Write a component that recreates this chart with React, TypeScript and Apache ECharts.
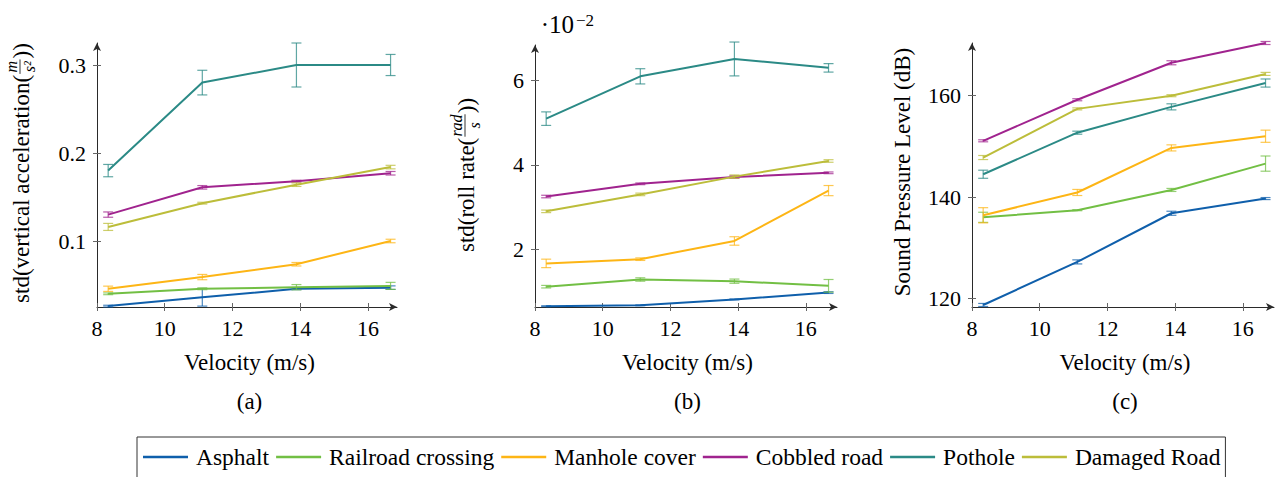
import React, { useEffect, useRef } from 'react';
import * as echarts from 'echarts';

const VELOCITY = [8.33, 11.11, 13.89, 16.67];
const X_TICKS = [8, 10, 12, 14, 16];
const SURFACES = ['Asphalt', 'Railroad crossing', 'Manhole cover', 'Cobbled road', 'Pothole', 'Damaged Road'];
const COLORS = ['#0f5fab', '#72bf44', '#fdb515', '#a0238e', '#2b8a86', '#bcbd3a'];

// (a) std of vertical acceleration (m/s^2)
const ACCEL_MEAN = [
  [0.026, 0.036, 0.0457, 0.047],
  [0.040, 0.0457, 0.0475, 0.049],
  [0.0457, 0.059, 0.0736, 0.100],
  [0.130, 0.161, 0.168, 0.177],
  [0.180, 0.280, 0.300, 0.300],
  [0.116, 0.143, 0.164, 0.184],
];
const ACCEL_ERR = [
  [0.001, 0.010, 0.001, 0.002],
  [0.001, 0.001, 0.003, 0.004],
  [0.003, 0.003, 0.002, 0.002],
  [0.003, 0.002, 0.001, 0.002],
  [0.007, 0.014, 0.025, 0.012],
  [0.004, 0.001, 0.002, 0.002],
];
const ACCEL_TICKS = [0.1, 0.2, 0.3];

// (b) std of roll rate (rad/s), in units of 1e-2
const ROLL_MEAN = [
  [0.66, 0.68, 0.82, 0.98],
  [1.12, 1.29, 1.25, 1.14],
  [1.67, 1.77, 2.20, 3.39],
  [3.25, 3.55, 3.71, 3.81],
  [5.09, 6.09, 6.50, 6.29],
  [2.90, 3.30, 3.72, 4.09],
];
const ROLL_ERR = [
  [0.01, 0.01, 0.01, 0.02],
  [0.03, 0.04, 0.05, 0.15],
  [0.10, 0.03, 0.10, 0.12],
  [0.03, 0.02, 0.03, 0.02],
  [0.16, 0.18, 0.40, 0.10],
  [0.03, 0.03, 0.04, 0.03],
];
const ROLL_TICKS = [2, 4, 6];

// (c) Sound pressure level (dB)
const SPL_MEAN = [
  [118.7, 127.2, 136.8, 139.7],
  [136.0, 137.4, 141.4, 146.6],
  [136.4, 140.9, 149.7, 152.0],
  [151.1, 159.2, 166.5, 170.4],
  [144.5, 152.7, 157.8, 162.5],
  [147.8, 157.4, 160.0, 164.3],
];
const SPL_ERR = [
  [0.3, 0.4, 0.4, 0.2],
  [1.0, 0.1, 0.3, 1.5],
  [1.5, 0.6, 0.6, 1.2],
  [0.2, 0.2, 0.4, 0.3],
  [0.8, 0.3, 0.6, 0.8],
  [0.4, 0.2, 0.2, 0.3],
];
const SPL_TICKS = [120, 140, 160];

const FONT = 'Liberation Serif';

// approximate Times advance widths (em) for label layout
function estWidth(text: string, size: number): number {
  const W: Record<string, number> = {
    s: 0.389, t: 0.278, d: 0.5, '(': 0.333, ')': 0.333, v: 0.5, e: 0.444, r: 0.333, i: 0.278, c: 0.444,
    a: 0.444, l: 0.278, ' ': 0.25, o: 0.5, n: 0.5, m: 0.778, '²': 0.3,
  };
  let w = 0;
  for (const ch of text) w += W[ch] ?? 0.5;
  return w * size;
}

function fracLabel(cx: number, cy: number, pre: string, num: string, den: string, post: string) {
  const fs = 23;
  const fsm = 16;
  const w1 = estWidth(pre, fs);
  const wn = estWidth(num, fsm);
  const wd = estWidth(den, fsm);
  const w3 = estWidth(post, fs);
  const wf = Math.max(wn, wd) + 4;
  const W = w1 + wf + w3;
  const x0 = -W / 2;
  const fx = x0 + w1;
  return {
    type: 'group',
    x: cx,
    y: cy,
    rotation: Math.PI / 2,
    children: [
      { type: 'text', x: x0, y: 0, style: { text: pre, fontSize: fs, fontFamily: FONT, align: 'left', verticalAlign: 'middle', fill: '#000' } },
      { type: 'text', x: fx + wf / 2, y: -2, style: { text: num, fontSize: fsm, fontStyle: 'italic', fontFamily: FONT, align: 'center', verticalAlign: 'bottom', fill: '#000' } },
      { type: 'line', shape: { x1: fx + 1, y1: -1, x2: fx + wf - 1, y2: -1 }, style: { stroke: '#000', lineWidth: 0.8 } },
      { type: 'text', x: fx + wf / 2, y: 0, style: { text: den, fontSize: fsm, fontStyle: 'italic', fontFamily: FONT, align: 'center', verticalAlign: 'top', fill: '#000' } },
      { type: 'text', x: fx + wf, y: 0, style: { text: post, fontSize: fs, fontFamily: FONT, align: 'left', verticalAlign: 'middle', fill: '#000' } },
    ],
  };
}

type Panel = {
  left: number; top: number; width: number; height: number;
  xMax: number; yMin: number; yMax: number;
  mean: number[][]; err: number[][]; ticks: number[]; fmt: (v: number) => string;
};

const PANELS: Panel[] = [
  { left: 97, top: 43, width: 300, height: 264, xMax: 16.86, yMin: 0.025, yMax: 0.325, mean: ACCEL_MEAN, err: ACCEL_ERR, ticks: ACCEL_TICKS, fmt: (v) => v.toFixed(1) },
  { left: 535, top: 45, width: 302, height: 262, xMax: 16.92, yMin: 0.64, yMax: 6.83, mean: ROLL_MEAN, err: ROLL_ERR, ticks: ROLL_TICKS, fmt: (v) => String(v) },
  { left: 972, top: 43, width: 302, height: 264, xMax: 16.92, yMin: 118.3, yMax: 170.4, mean: SPL_MEAN, err: SPL_ERR, ticks: SPL_TICKS, fmt: (v) => String(v) },
];

export default function App() {
  const ref = useRef<HTMLDivElement>(null);

  useEffect(() => {
    if (!ref.current) return;
    const chart = echarts.init(ref.current, undefined, { renderer: 'svg' });

    const grid: any[] = [];
    const xAxis: any[] = [];
    const yAxis: any[] = [];
    const series: any[] = [];
    const axisColor = '#2a2a2a';
    const tickColor = '#666';
    const labelStyle = { fontFamily: FONT, fontSize: 22, color: '#000' };

    PANELS.forEach((p, pi) => {
      grid.push({ left: p.left, top: p.top, width: p.width, height: p.height, containLabel: false });
      xAxis.push({
        type: 'value', gridIndex: pi, position: 'bottom', min: 8, max: p.xMax,
        axisLine: { show: true, onZero: false, symbol: ['none', 'arrow'], symbolSize: [6, 8], lineStyle: { color: axisColor, width: 1 } },
        axisTick: { show: true, inside: false, length: 4, customValues: X_TICKS, lineStyle: { color: tickColor } },
        axisLabel: { show: true, customValues: X_TICKS, margin: 10, ...labelStyle },
        splitLine: { show: false },
      });
      xAxis.push({
        type: 'value', gridIndex: pi, position: 'bottom', min: 8, max: p.xMax,
        axisLine: { show: false, onZero: false },
        axisTick: { show: true, inside: true, length: 4, customValues: X_TICKS, lineStyle: { color: tickColor } },
        axisLabel: { show: false },
        splitLine: { show: false },
      });
      yAxis.push({
        type: 'value', gridIndex: pi, position: 'left', min: p.yMin, max: p.yMax,
        axisLine: { show: true, onZero: false, symbol: ['none', 'arrow'], symbolSize: [6, 8], lineStyle: { color: axisColor, width: 1 } },
        axisTick: { show: true, inside: false, length: 4, customValues: p.ticks, lineStyle: { color: tickColor } },
        axisLabel: { show: true, customValues: p.ticks, margin: 11, ...labelStyle, formatter: (v: number) => p.fmt(v) },
        splitLine: { show: false },
      });
      yAxis.push({
        type: 'value', gridIndex: pi, position: 'left', min: p.yMin, max: p.yMax,
        axisLine: { show: false, onZero: false },
        axisTick: { show: true, inside: true, length: 4, customValues: p.ticks, lineStyle: { color: tickColor } },
        axisLabel: { show: false },
        splitLine: { show: false },
      });

      SURFACES.forEach((name, si) => {
        const color = COLORS[si];
        series.push({
          type: 'line', name, xAxisIndex: pi * 2, yAxisIndex: pi * 2,
          data: VELOCITY.map((x, j) => [x, p.mean[si][j]]),
          showSymbol: false, symbol: 'none',
          color,
          itemStyle: { color },
          lineStyle: { color, width: 2 },
          z: 2 + si,
        });
        series.push({
          type: 'custom', xAxisIndex: pi * 2, yAxisIndex: pi * 2,
          data: VELOCITY.map((x, j) => [x, p.mean[si][j], p.err[si][j]]),
          encode: { x: 0, y: 1 },
          clip: false,
          z: 2 + si,
          silent: true,
          renderItem: (params: any, api: any) => {
            const x = api.value(0);
            const y = api.value(1);
            const e = api.value(2);
            const t = api.coord([x, y + e]);
            const b = api.coord([x, y - e]);
            const st = { stroke: color, lineWidth: 1.2, opacity: 0.75 };
            return {
              type: 'group',
              children: [
                { type: 'line', shape: { x1: t[0], y1: t[1], x2: b[0], y2: b[1] }, style: st },
                { type: 'line', shape: { x1: t[0] - 5, y1: t[1], x2: t[0] + 5, y2: t[1] }, style: st },
                { type: 'line', shape: { x1: b[0] - 5, y1: b[1], x2: b[0] + 5, y2: b[1] }, style: st },
              ],
            };
          },
        });
      });
    });

    const txt = (size: number) => ({ fontSize: size, fontFamily: FONT, fill: '#000' });
    const graphic: any[] = [
      fracLabel(21, 173, 'std(vertical acceleration(', 'm', 's²', '))'),
      fracLabel(466, 175, 'std(roll rate(', 'rad', 's', '))'),
      {
        type: 'text', x: 902, y: 172, rotation: Math.PI / 2,
        style: { ...txt(23), text: 'Sound Pressure Level (dB)', align: 'center', verticalAlign: 'middle' },
      },
      { type: 'text', x: 574, y: 24, style: { ...txt(25), text: '·10', align: 'right', verticalAlign: 'middle' } },
      { type: 'text', x: 576, y: 20, style: { ...txt(17), text: '−2', align: 'left', verticalAlign: 'middle' } },
    ];
    const xCenters = [249.5, 687.5, 1125];
    const captions = ['(a)', '(b)', '(c)'];
    xCenters.forEach((cx, i) => {
      graphic.push({ type: 'text', x: cx, y: 362, style: { ...txt(23), text: 'Velocity (m/s)', align: 'center', verticalAlign: 'middle' } });
      graphic.push({ type: 'text', x: cx, y: 401, style: { ...txt(23), text: captions[i], align: 'center', verticalAlign: 'middle' } });
    });

    chart.setOption({
      animation: false,
      backgroundColor: '#fff',
      textStyle: { fontFamily: FONT },
      grid,
      xAxis,
      yAxis,
      series,
      graphic,
      legend: {
        data: SURFACES,
        left: 137,
        top: 437,
        orient: 'horizontal',
        icon: 'rect',
        itemWidth: 45,
        itemHeight: 2.5,
        itemGap: 7,
        padding: [8, 5, 14, 6],
        borderColor: '#333',
        borderWidth: 1,
        selectedMode: false,
        textStyle: { fontFamily: FONT, fontSize: 23.5, color: '#000', padding: [0, 0, 0, 3] },
      },
    });

    return () => chart.dispose();
  }, []);

  return (
    <div
      ref={ref}
      style={{ position: 'fixed', left: 0, top: 0, width: 1282, height: 477, background: '#fff' }}
    />
  );
}
